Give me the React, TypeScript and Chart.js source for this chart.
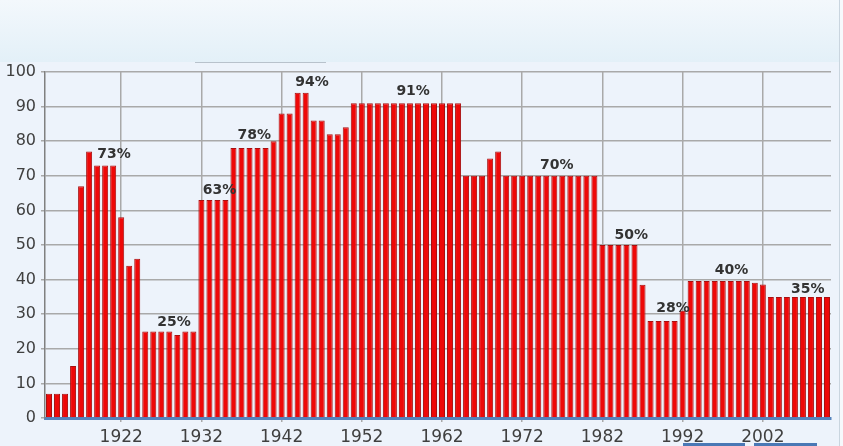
import React, { useEffect, useRef } from "react";
import { Chart, registerables } from "chart.js";

Chart.register(...registerables);

const firstYear = 1913;
const lastYear = 2010;
const years: string[] = [];
for (let y = firstYear; y <= lastYear; y++) years.push(String(y));

const topRates: number[] = [
  7, 7, 7, 15, 67, 77, 73, 73, 73, 58,
  44, 46, 25, 25, 25, 25, 24, 25, 25,
  63, 63, 63, 63, 78, 78, 78, 78, 78, 80,
  88, 88, 94, 94, 86, 86, 82, 82, 84,
  91, 91, 91, 91, 91, 91, 91, 91, 91, 91, 91, 91, 91, 91,
  70, 70, 70, 75, 77,
  70, 70, 70, 70, 70, 70, 70, 70, 70, 70, 70, 70,
  50, 50, 50, 50, 50, 38.5, 28, 28, 28, 28, 31,
  39.6, 39.6, 39.6, 39.6, 39.6, 39.6, 39.6, 39.6, 39.1, 38.6,
  35, 35, 35, 35, 35, 35, 35, 35,
];

const xTickYears: number[] = [1922, 1932, 1942, 1952, 1962, 1972, 1982, 1992, 2002];

const annoLabels: string[] = ["73%", "25%", "63%", "78%", "94%", "91%", "70%", "50%", "28%", "40%", "35%"];
const annoYears: number[] = [1921.1, 1928.6, 1934.25, 1938.6, 1945.8, 1958.4, 1976.3, 1985.6, 1990.8, 1998.1, 2007.6];
const annoValues: number[] = [76.3, 27.6, 65.9, 81.8, 97.1, 94.5, 73.1, 52.9, 31.8, 42.8, 37.3];

const isTickYear = (idx: number) => xTickYears.includes(firstYear + idx);

const annotationPlugin = {
  id: "pctLabels",
  afterDatasetsDraw(chart: any) {
    const { ctx, scales } = chart;
    const xs = scales.x;
    const ys = scales.y;
    const p0 = xs.getPixelForValue(0);
    const p1 = xs.getPixelForValue(1);
    ctx.save();
    ctx.font = "bold 14px 'DejaVu Sans'";
    ctx.fillStyle = "#333333";
    ctx.textAlign = "center";
    ctx.textBaseline = "middle";
    annoLabels.forEach((t, i) => {
      const x = p0 + (annoYears[i] - firstYear) * (p1 - p0);
      const y = ys.getPixelForValue(annoValues[i]);
      ctx.fillText(t, x, y);
    });
    ctx.restore();
  },
};

export default function App() {
  const ref = useRef<HTMLCanvasElement | null>(null);

  useEffect(() => {
    if (!ref.current) return;
    const chart = new Chart(ref.current, {
      type: "bar",
      data: {
        labels: years,
        datasets: [
          {
            data: topRates,
            backgroundColor: "#ee0808",
            borderColor: "#a81010",
            borderWidth: 1,
            barPercentage: 0.75,
            categoryPercentage: 1,
          },
        ],
      },
      plugins: [annotationPlugin],
      options: {
        animation: false,
        responsive: false,
        maintainAspectRatio: false,
        layout: { padding: { top: 72, right: 12, left: 0, bottom: 0 } },
        plugins: {
          legend: { display: false },
          tooltip: { enabled: false },
          title: { display: false },
        },
        scales: {
          x: {
            offset: true,
            afterFit: (s: any) => {
              s.height = 28;
            },
            grid: {
              offset: false,
              drawOnChartArea: true,
              color: (c: any) => (isTickYear(c.index) ? "#a9a9a9" : "rgba(0,0,0,0)"),
              lineWidth: 1.5,
              tickLength: 4,
            },
            border: { display: true, color: "#5583bd", width: 3 },
            ticks: {
              autoSkip: false,
              maxRotation: 0,
              minRotation: 0,
              padding: 5,
              color: "#404040",
              font: { family: "'DejaVu Sans'", size: 17 },
              callback: (_v: any, idx: number) => (isTickYear(idx) ? years[idx] : ""),
            },
          },
          y: {
            min: 0,
            max: 100,
            afterFit: (s: any) => {
              s.width = 45;
            },
            grid: { color: "#a9a9a9", lineWidth: 1.5, tickLength: 4 },
            border: { display: true, color: "#808080", width: 1.5 },
            ticks: {
              stepSize: 10,
              padding: 5,
              color: "#404040",
              font: { family: "'DejaVu Sans'", size: 16 },
            },
          },
        },
      },
    });
    return () => chart.destroy();
  }, []);

  return (
    <div
      style={{
        position: "absolute",
        left: 0,
        top: 0,
        width: 843,
        height: 446,
        background: "#edf3fb",
        overflow: "hidden",
      }}
    >
      <div
        style={{
          position: "absolute",
          left: 0,
          top: 0,
          width: 843,
          height: 62,
          background: "linear-gradient(to bottom, #f3f8fc, #e3f0f8)",
        }}
      />
      <div style={{ position: "absolute", left: 195, top: 62, width: 131, height: 1, background: "#b8c2cc" }} />
      <div style={{ position: "absolute", left: 839, top: 0, width: 4, height: 446, background: "#f6f9fc", borderLeft: "1px solid #c9d5df" }} />
      <div style={{ position: "absolute", left: 683, top: 443, width: 62, height: 3, background: "#4a78b5" }} />
      <div style={{ position: "absolute", left: 754, top: 443, width: 63, height: 3, background: "#4a78b5" }} />
      <canvas
        ref={ref}
        width={843}
        height={446}
        style={{ position: "absolute", left: 0, top: 0, width: 843, height: 446 }}
      />
    </div>
  );
}
